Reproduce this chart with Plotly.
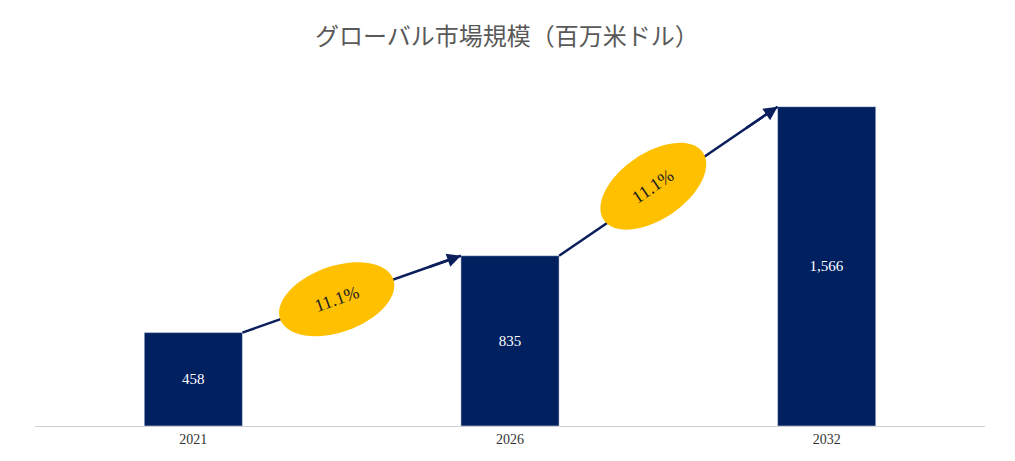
import numpy as np
import plotly.graph_objects as go

years = ["2021", "2026", "2032"]
values = [458, 835, 1566]
cagr_labels = ["11.1%", "11.1%"]

W, H = 1015, 461
ml, mr, mt, mb = 27, 38, 51, 43
ymax = 1800
pw, ph = W - ml - mr, H - mt - mb
bw = 0.31

def to_px(x, y):
    return ml + (x + 0.5) / 3 * pw, mt + ph - y / ymax * ph

def to_data(px, py):
    return (px - ml) / pw * 3 - 0.5, (mt + ph - py) / ph * ymax

fig = go.Figure(go.Bar(
    x=list(range(3)), y=values, width=bw, marker_color="#002060",
    text=[f"{v:,}" for v in values], textposition="inside", insidetextanchor="middle",
    textfont=dict(color="white", size=15, family="Liberation Serif"), hoverinfo="skip"))

lines, ells, anns = [], [], []
for i, lab in enumerate(cagr_labels):
    x0, y0 = i + bw / 2, values[i]
    x1, y1 = i + 1 - bw / 2, values[i + 1]
    lines.append(dict(type="line", x0=x0, y0=y0, x1=x1, y1=y1, xref="x", yref="y",
                      line=dict(color="#0a1f5c", width=2.5), layer="above"))
    xm, ym = x0 + 0.85 * (x1 - x0), y0 + 0.85 * (y1 - y0)
    anns.append(dict(x=x1, y=y1, ax=xm, ay=ym, xref="x", yref="y", axref="x", ayref="y",
                     showarrow=True, arrowhead=2, arrowsize=1.1, arrowwidth=2.5,
                     arrowcolor="#0a1f5c", text=""))
    p0, p1 = np.array(to_px(x0, y0)), np.array(to_px(x1, y1))
    c = (p0 + p1) / 2 + np.array([-15, 5])
    ang = np.arctan2(p1[1] - p0[1], p1[0] - p0[0])
    a, b = 60, 33
    t = np.linspace(0, 2 * np.pi, 60)
    ex = c[0] + a * np.cos(t) * np.cos(ang) - b * np.sin(t) * np.sin(ang)
    ey = c[1] + a * np.cos(t) * np.sin(ang) + b * np.sin(t) * np.cos(ang)
    pts = [to_data(px, py) for px, py in zip(ex, ey)]
    path = "M " + " L ".join(f"{px},{py}" for px, py in pts) + " Z"
    ells.append(dict(type="path", path=path, xref="x", yref="y",
                     fillcolor="#FFC000", line_width=0, layer="above"))
    cx, cy = to_data(*c)
    anns.append(dict(x=cx, y=cy, xref="x", yref="y", text=lab, showarrow=False,
                     textangle=float(np.degrees(ang)),
                     font=dict(size=18, family="Liberation Serif", color="#222")))

fig.update_layout(
    width=W, height=H, margin=dict(l=ml, r=mr, t=mt, b=mb),
    paper_bgcolor="white", plot_bgcolor="white", showlegend=False,
    title=dict(text="グローバル市場規模（百万米ドル）", x=(507 - 8) / W, y=1 - 29 / H,
               xanchor="center", yanchor="middle",
               font=dict(size=24, color="#595959", family="Noto Sans CJK JP")),
    xaxis=dict(range=[-0.5, 2.5], tickvals=list(range(3)), ticktext=years,
               showline=True, linecolor="#d0d0d0", linewidth=1, showgrid=False,
               tickfont=dict(size=14, family="Liberation Serif", color="#333")),
    yaxis=dict(range=[0, ymax], visible=False),
    shapes=lines + ells, annotations=anns)
fig.write_html("out.html")
